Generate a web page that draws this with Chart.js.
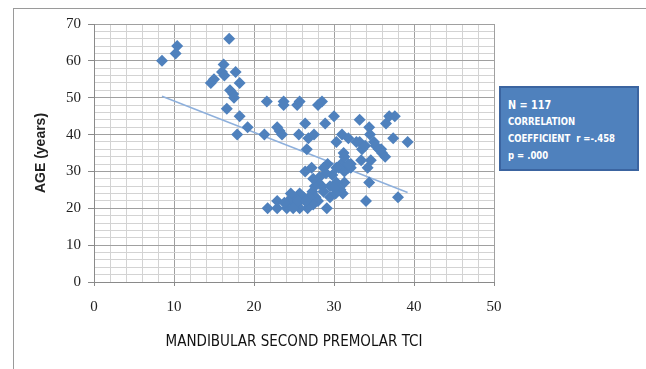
<!DOCTYPE html>
<html>
<head>
<meta charset="utf-8">
<script src="https://cdn.jsdelivr.net/npm/chart.js@4/dist/chart.umd.min.js"></script>
<style>
  body { margin: 0; background: #fff; }
  #wrap { position: relative; width: 646px; height: 369px; }
  #frame {
    position: absolute; left: 13px; top: 8px; width: 640px; height: 400px;
    border: 1px solid #9a9a9a; pointer-events: none;
  }
  #statbox {
    position: absolute; left: 499px; top: 86px; width: 140px; height: 85px;
    background: #4f81bd; border: 2px solid #3b64a0; color: #fff;
    box-sizing: border-box; padding: 8px 0 0 7px;
  }
  #statbox .txt {
    font-family: "DejaVu Sans Condensed", "Liberation Sans", sans-serif;
    font-weight: bold; font-size: 11px; line-height: 17px;
    transform: scaleX(0.86); transform-origin: left top; white-space: nowrap;
  }
  #statbox .big { font-size: 12.5px; }
</style>
</head>
<body>
<div id="wrap">
  <canvas id="scatter"></canvas>
  <div id="frame"></div>
  <div id="statbox">
    <div class="txt">
      <div class="big">N = 117</div>
      <div>CORRELATION</div>
      <div>COEFFICIENT&nbsp; r =-.458</div>
      <div>p = .000</div>
    </div>
  </div>
</div>
<script>
// values
const tci = [8.5,10.2,10.4,16.9,16.2,16.0,16.3,17.7,18.2,14.6,
  15.0,17.0,17.4,17.5,16.6,18.2,17.9,19.2,21.3,21.6,
  22.9,23.2,23.5,23.7,23.7,25.4,25.7,25.6,26.4,26.6,
  26.8,27.5,28.0,28.5,28.9,30.0,30.3,31.0,31.8,31.2,
  33.2,33.2,33.5,34.4,34.5,35.0,35.2,35.6,36.0,36.4,
  36.5,36.9,37.6,37.4,39.2,38.0,34.0,34.4,34.2,34.6,
  33.4,21.7,22.9,22.9,29.1,26.4,27.2,29.2,28.7,31.1,
  30.8,31.3,31.3,31.8,32.1,30.9,30.6,30.3,29.8,29.5,
  29.5,28.5,28.0,27.6,27.3,27.7,28.0,27.4,26.7,26.6,
  26.2,25.7,25.7,25.7,25.1,24.9,24.6,24.3,24.1,23.8,
  24.9,26.9,29.0,28.2,30.3,30.2,28.7,32.1,31.8,27.4,
  25.4,26.4,30.0,31.3,32.8,33.9,35.9];
const age = [60,62,64,66,59,57,56,57,54,54,
  55,52,51,50,47,45,40,42,40,49,
  42,41,40,49,48,48,49,40,43,36,
  39,40,48,49,43,45,38,40,39,35,
  44,38,36,42,40,38,37,36,35,34,
  43,45,45,39,38,23,22,27,31,33,
  33,20,20,22,20,30,31,32,31,24,
  25,27,30,31,32,32,31,27,29,26,
  23,26,27,26,24.5,23,22,21,20,22,
  23,24,22,20,23,21.5,24,22,20,21.5,
  20,23,29.5,28.5,31,24,24.5,31,32,28,
  22,22,25.5,34,38,37,36];
// linear trendline end points
const trendX = [8.5, 39.2];
const trendY = [50.4, 24.3];

const xTicks = [0, 10, 20, 30, 40, 50];
const yTicks = [0, 10, 20, 30, 40, 50, 60, 70];

const points = tci.map((x, i) => ({ x: x, y: age[i] }));
const trend = trendX.map((x, i) => ({ x: x, y: trendY[i] }));

const isMajor = (v, list) => list.includes(v);
const gridColor = (list) => (ctx) => ctx.tick && isMajor(ctx.tick.value, list) ? "#a0a0a0" : "#d3d3d3";
const tickColor = (list) => (ctx) => ctx.tick && isMajor(ctx.tick.value, list) ? "#8a8a8a" : "rgba(0,0,0,0)";

const tickFont = { family: "'Liberation Serif', 'DejaVu Serif', serif", size: 15 };

new Chart(document.getElementById("scatter"), {
  type: "scatter",
  data: {
    datasets: [
      {
        label: "Trend",
        type: "line",
        data: trend,
        borderColor: "#8eb0dc",
        borderWidth: 1.5,
        pointRadius: 0,
        fill: false,
        order: 2,
      },
      {
        label: "Age",
        data: points,
        pointStyle: "rectRot",
        pointRadius: 6,
        pointHoverRadius: 6,
        backgroundColor: "#4f81bd",
        borderColor: "#4f81bd",
        borderWidth: 0,
        order: 1,
      },
    ],
  },
  options: {
    responsive: true,
    maintainAspectRatio: false,
    animation: false,
    layout: { padding: { left: 28, right: 152, top: 24, bottom: 15 } },
    plugins: {
      legend: { display: false },
      tooltip: { enabled: false },
    },
    scales: {
      x: {
        type: "linear",
        min: 0,
        max: 50,
        afterFit: (s) => { s.height = 72; },
        ticks: {
          stepSize: 2,
          autoSkip: false,
          maxRotation: 0,
          padding: 12,
          color: "#222",
          font: tickFont,
          callback: (v) => (isMajor(v, xTicks) ? v : ""),
        },
        grid: {
          color: gridColor(xTicks),
          tickColor: tickColor(xTicks),
          tickLength: 4,
        },
        border: { color: "#8a8a8a" },
        title: {
          display: true,
          text: "MANDIBULAR SECOND PREMOLAR TCI",
          color: "#111",
          padding: { top: 0, bottom: 3 },
          font: { family: "'DejaVu Sans Condensed', 'Liberation Sans', sans-serif", size: 15 },
        },
      },
      y: {
        type: "linear",
        min: 0,
        max: 70,
        afterFit: (s) => { s.width = 66; },
        ticks: {
          stepSize: 2,
          autoSkip: false,
          padding: 7,
          color: "#222",
          font: tickFont,
          callback: (v) => (isMajor(v, yTicks) ? v : ""),
        },
        grid: {
          color: gridColor(yTicks),
          tickColor: tickColor(yTicks),
          tickLength: 6,
        },
        border: { color: "#8a8a8a" },
        title: {
          display: true,
          text: "AGE (years)",
          color: "#222",
          padding: { top: 5, bottom: 0 },
          font: { family: "'Liberation Sans', Arial, sans-serif", size: 14, weight: "bold" },
        },
      },
    },
  },
});
</script>
</body>
</html>
